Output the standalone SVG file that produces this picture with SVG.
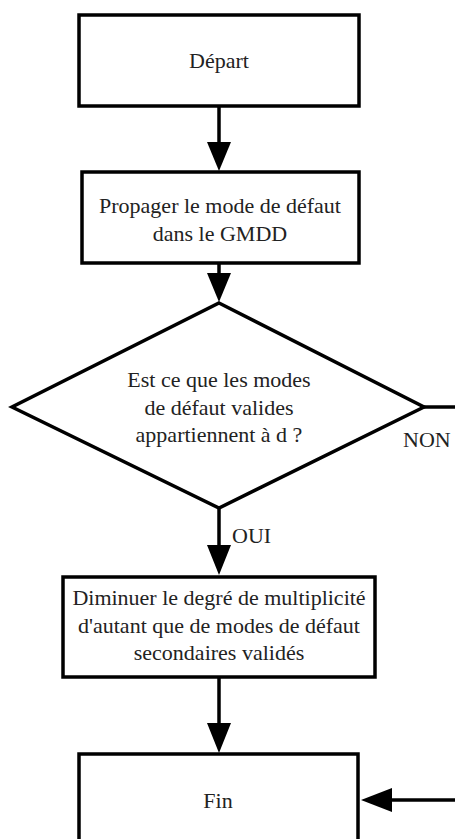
<svg xmlns="http://www.w3.org/2000/svg" width="455" height="839" viewBox="0 0 455 839">
<style>
.box{fill:#fff;stroke:#000;stroke-width:3.5}
.t{font-family:"Liberation Serif","Times New Roman",serif;font-size:22px;fill:#222;text-anchor:middle}
.lbl{font-family:"Liberation Serif","Times New Roman",serif;font-size:22px;fill:#222}
.c{stroke:#000;stroke-width:3.5;fill:none}
.h{fill:#000;stroke:none}
</style>
<rect width="455" height="839" fill="#fff"/>
<g id="depart">
<rect class="box" x="79" y="15" width="280" height="91"/>
<text class="t" x="219" y="68">Départ</text>
</g>
<g id="propager">
<rect class="box" x="82" y="172" width="277" height="91"/>
<text class="t" x="220" y="213">Propager le mode de défaut</text>
<text class="t" x="220" y="241">dans le GMDD</text>
</g>
<g id="decision">
<polygon class="box" points="219,303 424,407 219,508 12,407"/>
<text class="t" x="219" y="387">Est ce que les modes</text>
<text class="t" x="219" y="415">de défaut valides</text>
<text class="t" x="219" y="442">appartiennent à d ?</text>
</g>
<g id="diminuer">
<rect class="box" x="63" y="577" width="312" height="100"/>
<text class="t" x="219" y="605">Diminuer le degré de multiplicité</text>
<text class="t" x="219" y="633">d'autant que de modes de défaut</text>
<text class="t" x="219" y="660">secondaires validés</text>
</g>
<g id="fin">
<rect class="box" x="79" y="754" width="279" height="100"/>
<text class="t" x="218" y="808">Fin</text>
</g>
<g id="connectors">
<line class="c" x1="219" y1="106" x2="219" y2="145"/>
<polygon class="h" points="207,142 231,142 219,171"/>
<line class="c" x1="219" y1="263" x2="219" y2="276"/>
<polygon class="h" points="207,273 231,273 219,302"/>
<line class="c" x1="219" y1="508" x2="219" y2="548"/>
<polygon class="h" points="207,545 231,545 219,575"/>
<text class="lbl" x="232" y="543">OUI</text>
<line class="c" x1="219" y1="677" x2="219" y2="726"/>
<polygon class="h" points="207,723 231,723 219,753"/>
<polyline class="c" points="424,407 455,407"/>
<text class="lbl" x="403" y="447">NON</text>
<line class="c" x1="455" y1="800" x2="389" y2="800"/>
<polygon class="h" points="392,788 392,812 361,800"/>
</g>
</svg>
